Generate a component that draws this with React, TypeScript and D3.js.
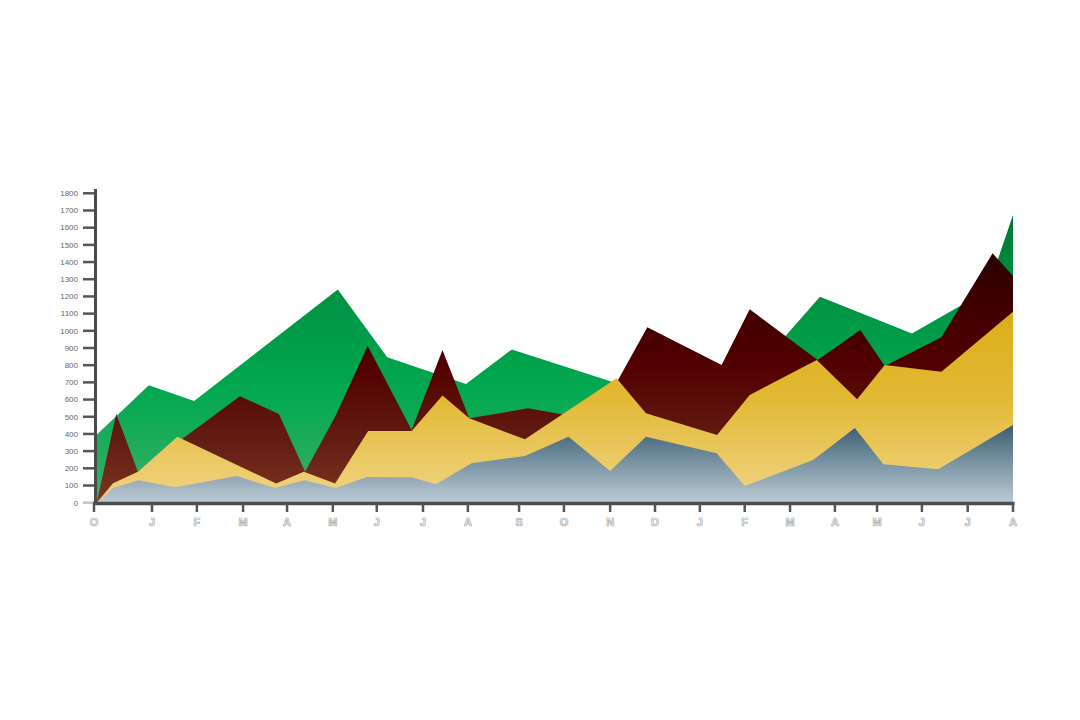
import React from 'react';
import * as d3 from 'd3';

// x positions are in "month units" on the axis (O = 0, J = 1.28, F = 2.27, ...)
const monthLabels = ['O','J','F','M','A','M','J','J','A','S','O','N','D','J','F','M','A','M','J','J','A'];
const monthTicks = [0, 1.28, 2.27, 3.29, 4.26, 5.27, 6.24, 7.26, 8.25, 9.38, 10.37, 11.39, 12.38, 13.37, 14.36, 15.36, 16.35, 17.28, 18.27, 19.28, 20.28];
const yTicks = [0, 100, 200, 300, 400, 500, 600, 700, 800, 900, 1000, 1100, 1200, 1300, 1400, 1500, 1600, 1700, 1800];

const greenX = [0.06, 1.21, 2.21, 5.38, 6.47, 8.21, 9.22, 11.43, 14.36, 16.02, 18.05, 19.15, 19.81, 20.28];
const greenV = [395, 684, 592, 1241, 846, 690, 892, 704, 700, 1198, 985, 1150, 1310, 1674];

const maroonX = [0.06, 0.49, 0.97, 3.22, 4.08, 4.66, 5.34, 6.04, 7.01, 7.69, 8.28, 9.58, 10.41, 11.43, 12.21, 13.85, 14.47, 15.97, 16.91, 17.45, 18.70, 19.83, 20.28];
const maroonV = [0, 516, 180, 620, 516, 180, 510, 912, 423, 888, 491, 549, 510, 650, 1020, 801, 1125, 830, 1005, 795, 962, 1451, 1319];

const yellowX = [0.06, 0.42, 0.97, 1.84, 4.02, 4.63, 5.32, 6.05, 7.01, 7.69, 8.28, 9.51, 11.53, 12.18, 13.75, 14.47, 15.95, 16.84, 17.45, 18.70, 20.28];
const yellowV = [0, 113, 180, 384, 112, 180, 112, 417, 417, 623, 491, 369, 724, 520, 394, 627, 830, 602, 801, 762, 1111];

const blueX = [0.06, 0.42, 0.98, 1.79, 3.15, 3.99, 4.64, 5.34, 6.02, 7.01, 7.55, 8.33, 9.51, 10.47, 11.39, 12.18, 13.74, 14.36, 15.87, 16.79, 17.42, 18.63, 20.28];
const blueV = [0, 85, 130, 90, 155, 85, 130, 85, 150, 148, 107, 229, 272, 384, 184, 384, 287, 97, 248, 435, 223, 194, 452];

const series = [
  { id: 'green', xs: greenX, vs: greenV, stops: [[0, '#007634'], [0.3, '#009444'], [0.6, '#00a84f'], [1, '#3bb066']] },
  { id: 'maroon', xs: maroonX, vs: maroonV, stops: [[0, '#2c0000'], [0.25, '#420000'], [0.45, '#520000'], [0.75, '#631c12'], [1, '#7c3620']] },
  { id: 'yellow', xs: yellowX, vs: yellowV, stops: [[0, '#dcae18'], [0.45, '#e2b935'], [1, '#f1d486']] },
  { id: 'blue', xs: blueX, vs: blueV, stops: [[0, '#3a5d70'], [0.45, '#7590a0'], [1, '#bccbd4']] },
];

export default function App() {
  const x = d3.scaleLinear().domain([0, 20.28]).range([94, 1013]);
  const y = d3.scaleLinear().domain([0, 1800]).range([502.7, 193.3]);
  const area = d3.area<[number, number]>()
    .x(d => x(d[0]))
    .y0(y(0))
    .y1(d => y(d[1]))
    .curve(d3.curveLinear);

  return (
    <svg width={1080} height={720} style={{ position: 'absolute', left: 0, top: 0, background: '#fff' }}>
      <defs>
        {series.map(s => (
          <linearGradient key={s.id} id={`g-${s.id}`} x1="0" y1="0" x2="0" y2="1">
            {s.stops.map(([o, c], i) => <stop key={i} offset={o as number} stopColor={c as string} />)}
          </linearGradient>
        ))}
      </defs>
      {series.map(s => (
        <path key={s.id} d={area(s.xs.map((xv, i) => [xv, s.vs[i]] as [number, number])) || ''} fill={`url(#g-${s.id})`} />
      ))}
      {/* y axis */}
      <g>
        {yTicks.map(t => (
          <g key={t}>
            <line x1={83} x2={95} y1={y(t)} y2={y(t)} stroke={t === 0 ? '#c4c4c4' : '#555'} strokeWidth={2.5} />
            <text x={78} y={y(t)} dy="0.35em" textAnchor="end" fontSize={8} fill="#666"
              fontFamily="'Liberation Sans Narrow', 'Liberation Sans', Arial, sans-serif">{t}</text>
          </g>
        ))}
        <line x1={95.5} x2={95.5} y1={189} y2={505} stroke="#4a4a4a" strokeWidth={3} />
      </g>
      {/* x axis */}
      <g>
        <line x1={93} x2={1014.5} y1={503.5} y2={503.5} stroke="#4d4d4d" strokeWidth={3.5} />
        {monthTicks.map((t, i) => (
          <g key={i}>
            <line x1={x(t)} x2={x(t)} y1={503} y2={512} stroke="#555" strokeWidth={2.5} />
            <text x={x(t)} y={526} textAnchor="middle" fontSize={11} fontWeight="bold" fill="#fff" stroke="#a8a8a8" strokeWidth={0.7}
              fontFamily="'Liberation Sans Narrow', 'Liberation Sans', Arial, sans-serif">{monthLabels[i]}</text>
          </g>
        ))}
      </g>
    </svg>
  );
}
